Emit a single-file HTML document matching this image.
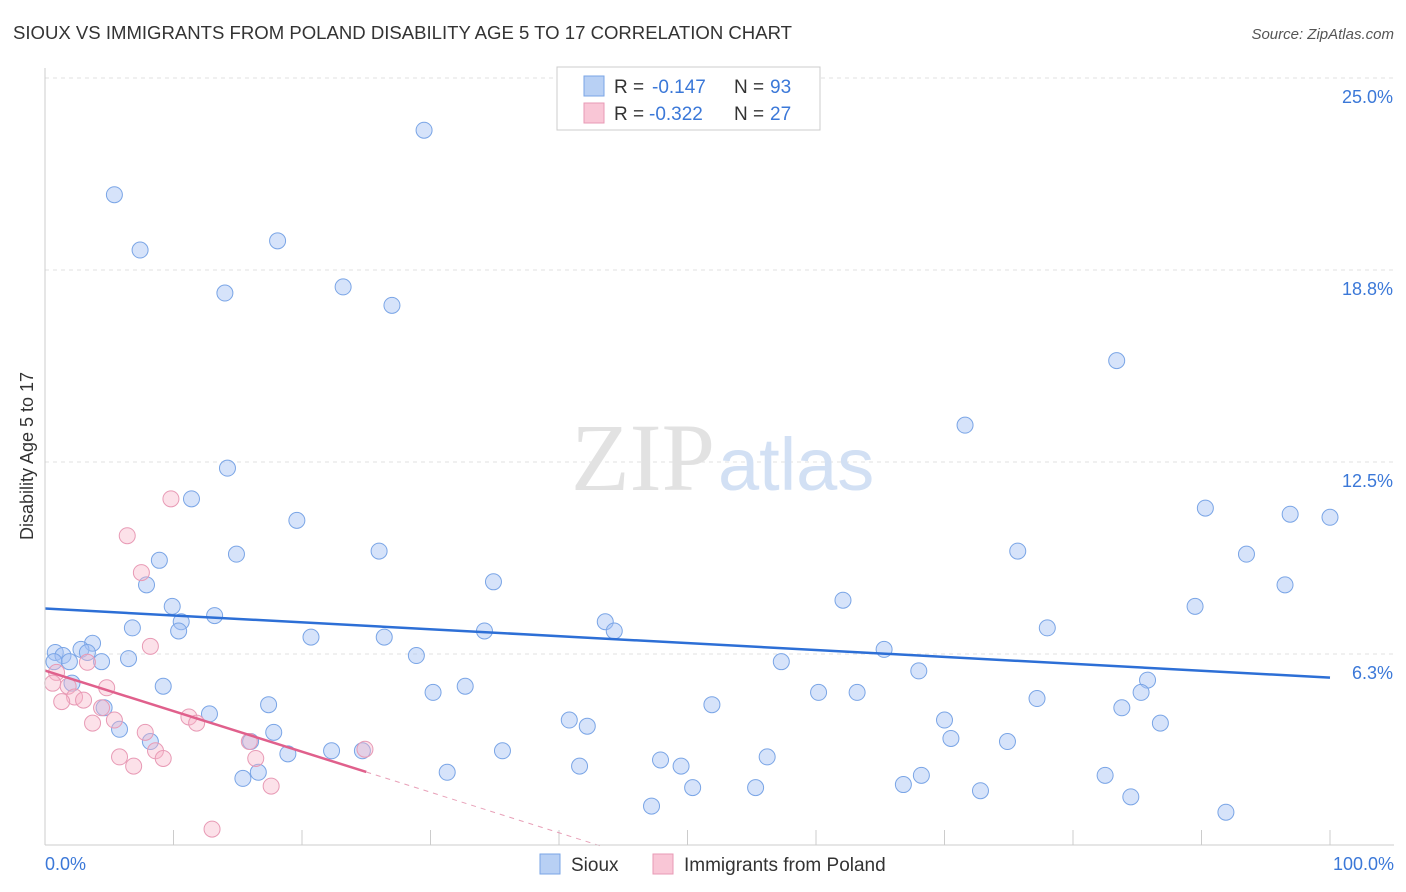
<!DOCTYPE html>
<html><head><meta charset="utf-8"><style>
body{margin:0;background:#fff;font-family:"Liberation Sans",sans-serif}
svg{display:block}
</style></head><body>
<svg id="chart" width="1406" height="892">
<text x="13" y="39" font-size="18" fill="#333" textLength="779" lengthAdjust="spacingAndGlyphs">SIOUX VS IMMIGRANTS FROM POLAND DISABILITY AGE 5 TO 17 CORRELATION CHART</text>
<text x="1394" y="39" font-size="15" fill="#555" font-style="italic" text-anchor="end">Source: ZipAtlas.com</text>
<text x="33" y="456" font-size="18" fill="#333" text-anchor="middle" transform="rotate(-90 33 456)">Disability Age 5 to 17</text>
<g id="grid"></g>
<text x="715" y="490" font-size="96" fill="#e2e2e2" text-anchor="end" font-family="Liberation Serif,serif">ZIP</text>
<text x="718" y="490" font-size="74" fill="#d2e0f4">atlas</text>
<g id="points"></g>
<g id="lines"></g>
<line x1="45" y1="68" x2="45" y2="845" stroke="#ccc"/>
<line x1="45" y1="845" x2="1394" y2="845" stroke="#ccc"/>
<text x="45" y="870" font-size="18" fill="#3b78d8">0.0%</text>
<text x="1394" y="870" font-size="18" fill="#3b78d8" text-anchor="end">100.0%</text>
<g>
<rect x="557" y="67" width="263" height="63" fill="#fff" stroke="#ccc"/>
<rect x="584" y="76" width="20" height="20" fill="#b8d0f4" stroke="#7aa5e6"/>
<rect x="584" y="103" width="20" height="20" fill="#f9c6d6" stroke="#e89ab5"/>
<text y="93" font-size="19" fill="#333"><tspan x="614">R =</tspan><tspan x="652" fill="#3b78d8">-0.147</tspan><tspan x="734">N =</tspan><tspan x="770" fill="#3b78d8">93</tspan></text>
<text y="120" font-size="19" fill="#333"><tspan x="614">R =</tspan><tspan x="649" fill="#3b78d8">-0.322</tspan><tspan x="734">N =</tspan><tspan x="770" fill="#3b78d8">27</tspan></text>
</g>
<g>
<rect x="540" y="854" width="20" height="20" fill="#b8d0f4" stroke="#7aa5e6"/>
<text x="571" y="871" font-size="19" fill="#333">Sioux</text>
<rect x="653" y="854" width="20" height="20" fill="#f9c6d6" stroke="#e89ab5"/>
<text x="684" y="871" font-size="19" fill="#333">Immigrants from Poland</text>
</g>
</svg>
<script>
const yTicks=[6.25,12.5,18.75,25];
const yTickLabels=["6.3%","12.5%","18.8%","25.0%"];
const xTicks=[10,20,30,40,50,60,70,80,90,100];
const siouxX=[29.5,5.4,7.4,18.1,14.0,23.2,27.0,83.4,71.6,14.2,11.4,19.6,90.3,96.9,100,14.9,26.0,75.7,93.5,8.9,34.9,7.9,96.5,62.1,9.9,13.2,89.5,6.8,10.6,10.4,43.6,44.3,34.2,78.0,20.7,26.4,3.7,2.8,0.8,1.4,3.3,1.9,4.4,6.5,0.7,28.9,57.3,65.3,68.0,9.2,30.2,32.7,2.1,85.8,85.3,60.2,63.2,77.2,17.4,4.6,51.9,83.8,12.8,70.0,86.8,40.8,42.2,5.8,17.8,16.0,8.2,70.5,74.9,35.6,22.3,24.7,18.9,56.2,47.9,49.5,41.6,16.6,31.3,15.4,82.5,68.2,66.8,50.4,55.3,72.8,84.5,47.2,91.9];
const siouxY=[23.3,21.2,19.4,19.7,18.0,18.2,17.6,15.8,13.7,12.3,11.3,10.6,11.0,10.8,10.7,9.5,9.6,9.6,9.5,9.3,8.6,8.5,8.5,8.0,7.8,7.5,7.8,7.1,7.3,7.0,7.3,7.0,7.0,7.1,6.8,6.8,6.6,6.4,6.3,6.2,6.3,6.0,6.0,6.1,6.0,6.2,6.0,6.4,5.7,5.2,5.0,5.2,5.3,5.4,5.0,5.0,5.0,4.8,4.6,4.5,4.6,4.5,4.3,4.1,4.0,4.1,3.9,3.8,3.7,3.4,3.4,3.5,3.4,3.1,3.1,3.1,3.0,2.9,2.8,2.6,2.6,2.4,2.4,2.2,2.3,2.3,2.0,1.9,1.9,1.8,1.6,1.3,1.1];
const polandX=[9.8,6.4,7.5,8.2,3.3,0.9,0.6,1.8,4.8,2.3,1.3,3.0,4.4,5.4,3.7,7.8,11.2,11.8,15.9,8.6,5.8,9.2,6.9,16.4,17.6,24.9,13.0];
const polandY=[11.3,10.1,8.9,6.5,5.98,5.65,5.3,5.2,5.15,4.85,4.7,4.75,4.5,4.1,4.0,3.7,4.2,4.0,3.4,3.1,2.9,2.85,2.6,2.85,1.95,3.15,0.55];
const siouxTrend=[7.73,5.48];
const polandTrend=[5.71,2.41];
const X=v=>45+v*12.85, Y=v=>846-v*30.72;
const NS="http://www.w3.org/2000/svg";
function mk(t,a,p){const e=document.createElementNS(NS,t);for(const k in a)e.setAttribute(k,a[k]);p.appendChild(e);return e;}
const grid=document.getElementById('grid');
yTicks.forEach((t,i)=>{
 const l=mk('line',{x1:45,x2:1394,y1:Y(t),y2:Y(t),stroke:'#e2e2e2','stroke-dasharray':'4,4'},grid);
 
 
 const tx=mk('text',{x:1393,y:Y(t)+25,'font-size':18,fill:'#3b78d8','text-anchor':'end'},grid);
 tx.textContent=yTickLabels[i];
 
 
});
const tl=mk('line',{x1:45,x2:1394,y1:78,y2:78,stroke:'#e2e2e2','stroke-dasharray':'4,4'},grid);


xTicks.forEach(t=>{
 const l=mk('line',{x1:X(t),x2:X(t),y1:830,y2:845,stroke:'#ccc'},grid);
 
 
});
const pts=document.getElementById('points');
siouxX.forEach((x,i)=>{
 const c=mk('circle',{cx:X(x),cy:Y(siouxY[i]),r:8,fill:'rgba(164,194,244,0.45)',stroke:'#7aa5e6','stroke-width':1},pts);
 
 
});
polandX.forEach((x,i)=>{
 const c=mk('circle',{cx:X(x),cy:Y(polandY[i]),r:8,fill:'rgba(248,180,200,0.4)',stroke:'#e89ab5','stroke-width':1},pts);
 
 
});
const ln=document.getElementById('lines');
const b=mk('line',{x1:X(0),y1:Y(siouxTrend[0]),x2:X(100),y2:Y(siouxTrend[1]),stroke:'#2d6fd6','stroke-width':2.5},ln);


const slope=(polandTrend[1]-polandTrend[0])/25;
const p=mk('line',{x1:X(0),y1:Y(polandTrend[0]),x2:X(25),y2:Y(polandTrend[1]),stroke:'#e0608c','stroke-width':2.5},ln);


const xEnd=-polandTrend[0]/slope;
const d=mk('line',{x1:X(25),y1:Y(polandTrend[1]),x2:X(xEnd),y2:Y(0),stroke:'#e8a0b8','stroke-width':1,'stroke-dasharray':'5,5'},ln);


</script>
</body></html>
